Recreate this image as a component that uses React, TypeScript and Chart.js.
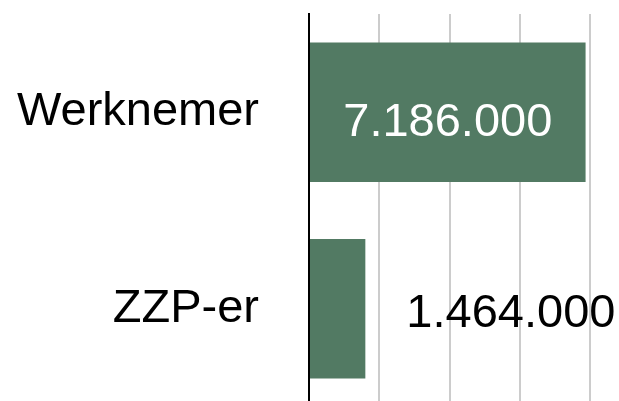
import React, { useEffect, useRef } from "react";
import { Chart, registerables } from "chart.js";

Chart.register(...registerables);

const categories = ["Werknemer", "ZZP-er"];
const values = [7186000, 1464000];
const gridTicks = [0, 1826000, 3652000, 5478000, 7304000];
const xMax = 8600000;

const FONT = '"Liberation Sans", Arial, Helvetica, sans-serif';
const FONT_SIZE = 47;

const fmt = (v: number) => String(Math.round(v)).replace(/\B(?=(\d{3})+(?!\d))/g, ".");

const valueLabels = {
  id: "valueLabels",
  afterDatasetsDraw(chart: any) {
    const ctx = chart.ctx;
    const meta = chart.getDatasetMeta(0);
    ctx.save();
    ctx.font = `${FONT_SIZE}px ${FONT}`;
    ctx.textBaseline = "alphabetic";
    const capHalf = (FONT_SIZE * 0.716) / 2;
    meta.data.forEach((el: any, i: number) => {
      const text = fmt(values[i]);
      const w = ctx.measureText(text).width;
      const barLen = el.x - el.base;
      if (w + 40 < barLen) {
        ctx.fillStyle = "#ffffff";
        ctx.textAlign = "center";
        ctx.fillText(text, (el.x + el.base) / 2, el.y + capHalf + 7);
      } else {
        ctx.fillStyle = "#000000";
        ctx.textAlign = "left";
        ctx.fillText(text, el.x + 41, el.y + capHalf + 1);
      }
    });
    ctx.restore();
  },
};

export default function App() {
  const ref = useRef<HTMLCanvasElement>(null);
  useEffect(() => {
    const chart = new Chart(ref.current as HTMLCanvasElement, {
      type: "bar",
      data: {
        labels: categories,
        datasets: [
          {
            data: values,
            backgroundColor: "#527a63",
            borderWidth: 0,
            barPercentage: 0.71,
            categoryPercentage: 1,
          },
        ],
      },
      options: {
        indexAxis: "y",
        responsive: false,
        animation: false,
        devicePixelRatio: 1,
        layout: { padding: { top: 14, bottom: 3, left: 0, right: 0 } },
        plugins: { legend: { display: false }, tooltip: { enabled: false } },
        scales: {
          x: {
            type: "linear",
            min: 0,
            max: xMax,
            afterBuildTicks: (s: any) => {
              s.ticks = gridTicks.map((v) => ({ value: v }));
            },
            ticks: { display: false },
            grid: { color: "#cccccc", lineWidth: 2, drawTicks: false },
            border: { display: false },
            afterFit: (s: any) => {
              s.height = 0;
              s.paddingLeft = 0;
              s.paddingRight = 0;
            },
          },
          y: {
            grid: { display: false, drawTicks: false },
            border: { display: true, color: "#000000", width: 2, z: 1 },
            ticks: { color: "#000000", padding: 50, font: { family: FONT, size: FONT_SIZE } },
            afterFit: (s: any) => {
              s.width = 309;
              s.paddingTop = 0;
              s.paddingBottom = 0;
            },
          },
        },
      } as any,
      plugins: [valueLabels],
    });
    return () => chart.destroy();
  }, []);
  return (
    <div
      style={{
        position: "fixed",
        left: 0,
        top: 0,
        width: 619,
        height: 401,
        overflow: "hidden",
        background: "#ffffff",
      }}
    >
      <canvas ref={ref} width={640} height={410} style={{ display: "block" }} />
    </div>
  );
}
